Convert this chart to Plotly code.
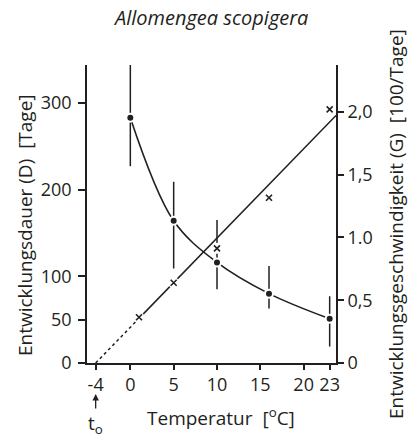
import numpy as np
import plotly.graph_objects as go

# Development duration D [days] with spread, per rearing temperature
temp_D = [0, 5, 10, 16, 23]
dauer = [283, 164, 116, 80, 51]
dauer_lo = [227, 109, 85, 63, 19]
dauer_hi = [344, 209, 165, 112, 77]

# Development rate G [100/days]
temp_G = [1, 5, 10, 16, 23]
rate = [0.364, 0.639, 0.913, 1.316, 2.02]

# Regression line for G, extrapolated down to the threshold temperature t0
t0 = -4
slope = 0.0711
t_max = 23.73

x_ticks = [-4, 0, 5, 10, 15, 20, 23]
yl_ticks = [0, 50, 100, 200, 300]
yr_ticks = [0, 0.5, 1.0, 1.5, 2.0]
yr_text = ["0", "0,5", "1.0", "1,5", "2,0"]

INK = "#231f20"
FONT = "Open Sans"

W, H = 409, 434
L, R, T, B = 87, 73, 65, 71
pw, ph = W - L - R, H - T - B


def px(x, y):
    """Pixel position in the page -> paper coordinates."""
    return (x - L) / pw, (H - B - y) / ph


t_dash = np.array([t0, temp_G[0]])
t_solid = np.array([temp_G[0], t_max])

fig = go.Figure()

# G regression line: dotted extrapolation + solid fit
fig.add_trace(go.Scatter(x=t_dash, y=slope * (t_dash - t0), yaxis="y2", mode="lines",
                         line=dict(color=INK, width=1.5, dash="3px,3px"), hoverinfo="skip"))
fig.add_trace(go.Scatter(x=t_solid, y=slope * (t_solid - t0), yaxis="y2", mode="lines",
                         line=dict(color=INK, width=1.5), hoverinfo="skip"))

# D curve (white halo breaks the G line where they cross)
fig.add_trace(go.Scatter(x=temp_D, y=dauer, mode="lines",
                         line=dict(color="white", width=6, shape="spline", smoothing=1.0),
                         hoverinfo="skip"))
fig.add_trace(go.Scatter(x=temp_D, y=dauer, mode="lines",
                         line=dict(color=INK, width=1.6, shape="spline", smoothing=1.0),
                         hoverinfo="skip"))

# Spread of D as plain vertical bars
err_plus = [h - d for h, d in zip(dauer_hi, dauer)]
err_minus = [d - l for l, d in zip(dauer_lo, dauer)]
fig.add_trace(go.Scatter(x=temp_D, y=dauer, mode="markers",
                         marker=dict(size=1, color="rgba(0,0,0,0)"),
                         error_y=dict(type="data", array=err_plus, arrayminus=err_minus,
                                      width=0, thickness=1.5, color=INK),
                         hoverinfo="skip"))

# G measurements: crosses on a white knockout
fig.add_trace(go.Scatter(x=temp_G, y=rate, yaxis="y2", mode="markers",
                         marker=dict(symbol="circle", size=11, color="white"),
                         hoverinfo="skip"))
fig.add_trace(go.Scatter(x=temp_G, y=rate, yaxis="y2", mode="markers",
                         marker=dict(symbol="x-thin", size=6, line=dict(color=INK, width=1.6)),
                         hoverinfo="skip"))

# D means as filled dots
fig.add_trace(go.Scatter(x=temp_D, y=dauer, mode="markers",
                         marker=dict(symbol="circle", size=8, color=INK,
                                     line=dict(color="white", width=2)),
                         hoverinfo="skip"))

axis_common = dict(showgrid=False, zeroline=False, showline=True, linecolor=INK, linewidth=1.6,
                   ticks="outside", tickwidth=1.5, tickcolor=INK,
                   tickfont=dict(family=FONT, size=18, color=INK))


def label(text, x, y, size=19, angle=0):
    ax, ay = px(x, y)
    return dict(text=text, x=ax, y=ay, xref="paper", yref="paper", xanchor="center",
                yanchor="middle", textangle=angle, showarrow=False,
                font=dict(family=FONT, size=size, color=INK))


fig.update_layout(
    width=W, height=H,
    margin=dict(l=L, r=R, t=T, b=B),
    plot_bgcolor="white", paper_bgcolor="white",
    showlegend=False,
    xaxis=dict(range=[-5, t_max], tickvals=x_ticks, ticktext=[str(v) for v in x_ticks],
               ticklen=5, **axis_common),
    yaxis=dict(range=[0, 343.7], tickvals=yl_ticks, ticklen=7, ticklabelstandoff=3,
               **axis_common),
    yaxis2=dict(range=[0, 2.373], tickvals=yr_ticks, ticktext=yr_text, overlaying="y",
                side="right", ticklen=6, **axis_common),
    annotations=[
        label("<i>Allomengea scopigera</i>", 210, 17, size=20),
        label("Temperatur&nbsp;&nbsp;[<sup>o</sup>C]", 221, 417),
        label("Entwicklungsdauer (D)&nbsp;&nbsp;[Tage]", 25, 225, angle=-90),
        label("Entwicklungsgeschwindigkeit (G)&nbsp;&nbsp;[100/Tage]", 396, 224, angle=-90),
        dict(text="t<sub>o</sub>", x=t0, xref="x", y=px(0, 394)[1], yref="paper",
             showarrow=True, ax=0, ay=30, arrowhead=2, arrowsize=1, arrowwidth=1.3,
             arrowcolor=INK, font=dict(family=FONT, size=19, color=INK)),
    ],
)

fig.write_html("out.html")
